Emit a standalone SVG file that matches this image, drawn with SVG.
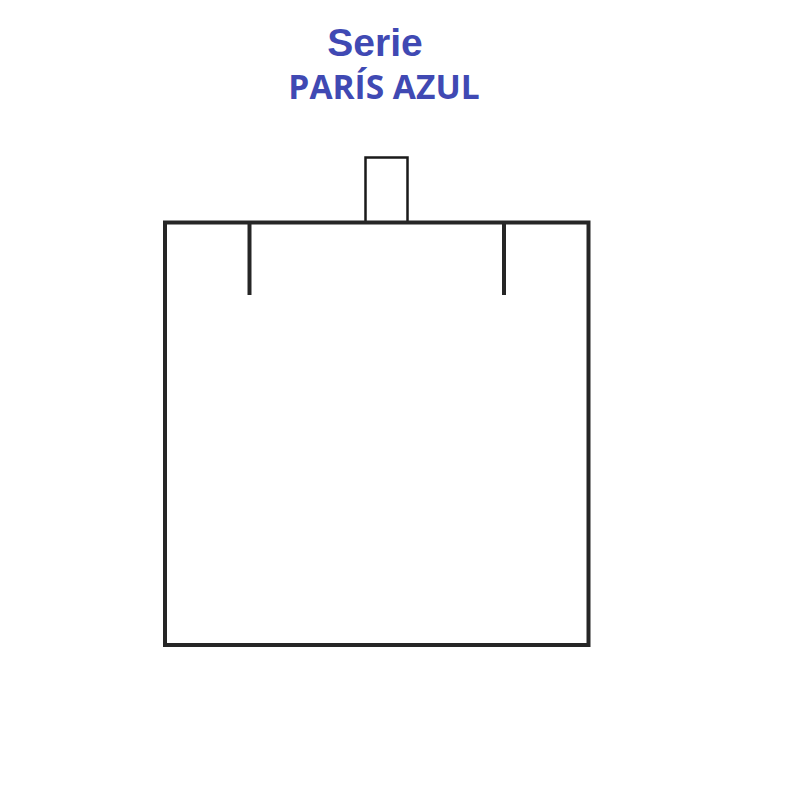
<svg xmlns="http://www.w3.org/2000/svg" width="800" height="800" viewBox="0 0 800 800">
<style>
.title{fill:#4049B3;font-weight:bold;text-anchor:middle}
.frame{fill:none;stroke:#262626;stroke-width:4}
.tick{stroke:#262626;stroke-width:4;fill:none}
.tab{fill:#fff;stroke:#1a1a1a;stroke-width:2.5}
</style>
<rect width="800" height="800" fill="#fff"/>
<g id="title">
<text class="title" x="375" y="56" font-family="Liberation Sans, Arial, sans-serif" font-size="39">Serie</text>
<text class="title" x="384" y="99" font-family="Open Sans, Liberation Sans, sans-serif" font-size="33.5">PARÍS AZUL</text>
</g>
<g id="box">
<rect class="tab" x="365.5" y="157.5" width="42" height="65"/>
<rect class="frame" x="165" y="222.5" width="423.5" height="422.5"/>
<line class="tick" x1="249.5" y1="222.5" x2="249.5" y2="295"/>
<line class="tick" x1="504" y1="222.5" x2="504" y2="295"/>
</g>
</svg>
